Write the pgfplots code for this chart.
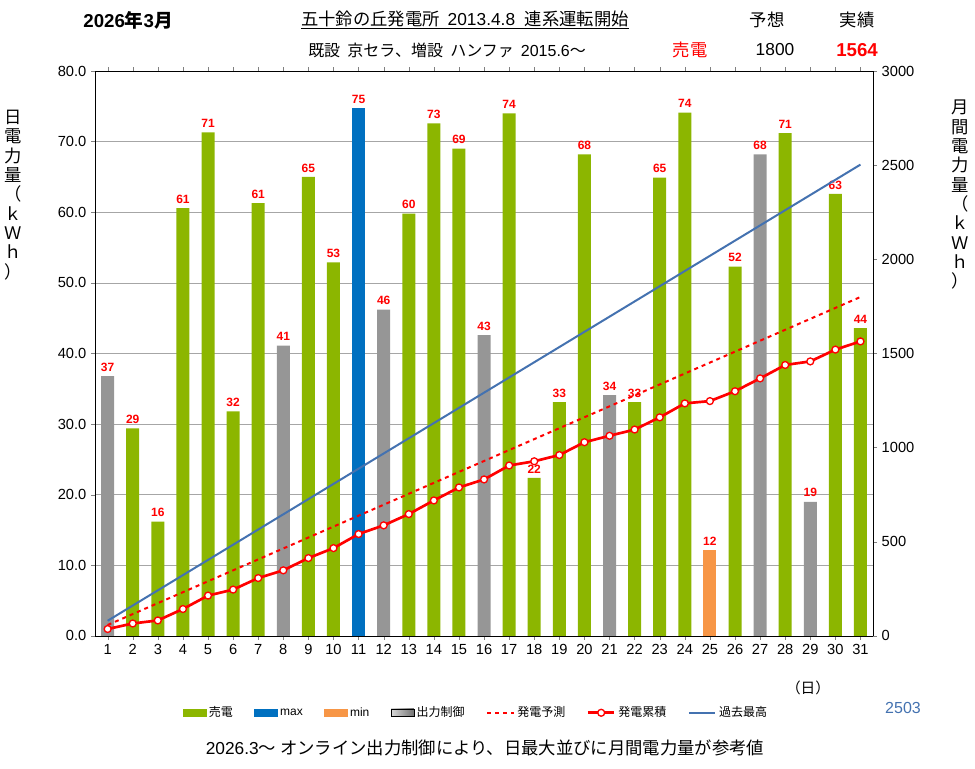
\documentclass[border=0pt]{standalone}
\usepackage{pgfplots}
\pgfplotsset{compat=1.18}
\usepackage{fontspec}
\setmainfont{Liberation Sans}
\newfontfamily\jp{Noto Sans CJK JP}
\definecolor{grn}{RGB}{140,182,0}
\definecolor{gry}{RGB}{150,150,150}
\definecolor{bl}{RGB}{0,112,192}
\definecolor{org}{RGB}{247,150,70}
\definecolor{lb}{RGB}{68,114,176}
\begin{document}
\begin{tikzpicture}
\pgfplotsset{every axis/.append style={scale only axis,width=583.5pt,height=423.75pt,xmin=0.5,xmax=31.5}}
\begin{axis}[
  ymin=0,ymax=80,ytick={0,10,...,80},
  xtick={1,...,31},
  tick label style={font=\fontsize{11}{13}\selectfont},
  /pgf/number format/assume math mode=true,
  yticklabel style={/pgf/number format/.cd,fixed,fixed zerofill,precision=1},
  ymajorgrids, grid style={gray!70},
  axis y line*=left, tick align=outside, major tick length=3pt,
  ybar, bar width=9.75pt, bar shift=0pt, clip=false,
  nodes near coords, every node near coord/.append style={red,font=\fontsize{9}{10}\selectfont\bfseries,/pgf/number format/.cd,fixed,precision=0},
]
\addplot[fill=grn,draw=none] coordinates {(2,29.4)(3,16.2)(4,60.6)(5,71.3)(6,31.8)(7,61.3)(9,65.0)(10,52.9)(13,59.8)(14,72.6)(15,69.0)(17,74.0)(18,22.4)(19,33.1)(20,68.2)(22,33.1)(23,64.9)(24,74.1)(26,52.3)(28,71.2)(30,62.6)(31,43.6)};
\addplot[fill=bl,draw=none] coordinates {(11,74.7)};
\addplot[fill=org,draw=none] coordinates {(25,12.2)};
\addplot[fill=gry,draw=none] coordinates {(1,36.8)(8,41.1)(12,46.2)(16,42.6)(21,34.1)(27,68.2)(29,19.0)};
\coordinate (tl) at (rel axis cs:-0.1221,1.1257);
\coordinate (br) at (rel axis cs:1.1311,-0.2354);
\def\px#1#2{(rel axis cs:{(#1-95)/778},{(636-#2)/565})}
\node[font=\fontsize{14}{16}\selectfont\bfseries] at \px{128}{20} {2026\jp 年\rmfamily 3\jp 月};
\node[font=\fontsize{13}{15}\selectfont] at \px{465}{20} {\underline{\jp 五十鈴の丘発電所\ \ \rmfamily 2013.4.8\ \ \jp 連系運転開始}};
\node[font=\fontsize{13}{15}\selectfont\jp] at \px{767}{20} {予想};
\node[font=\fontsize{13}{15}\selectfont\jp] at \px{857}{20} {実績};
\node[font=\fontsize{12}{14}\selectfont] at \px{447}{50} {\jp 既設\ \ 京セラ、増設\ \ ハンファ\ \ \rmfamily 2015.6\jp ～};
\node[font=\fontsize{13}{15}\selectfont\jp,red] at \px{690}{50} {売電};
\node[font=\fontsize{13}{15}\selectfont] at \px{775}{50} {1800};
\node[font=\fontsize{14}{16}\selectfont\bfseries,red] at \px{857}{50} {1564};
\node[font=\fontsize{13}{14.5}\selectfont\jp,align=center] at \px{13}{195} {日\\電\\力\\量\\（\\ｋ\\Ｗ\\ｈ\\）};
\node[font=\fontsize{13}{14.5}\selectfont\jp,align=center] at \px{960}{195} {月\\間\\電\\力\\量\\（\\ｋ\\Ｗ\\ｈ\\）};
\node[font=\fontsize{11}{13}\selectfont\jp] at \px{808}{688} {（日）};
\node[font=\fontsize{12}{14}\selectfont,lb] at \px{903}{708} {2503};
\node[font=\fontsize{13}{15}\selectfont\jp] at \px{485}{748} {\rmfamily 2026.3\jp ～ オンライン出力制御により、日最大並びに月間電力量が参考値};
\end{axis}
\begin{axis}[
  ymin=0,ymax=3000,ytick={0,500,...,3000},
  axis y line*=right, axis x line=none, tick align=outside, major tick length=3pt,
  tick label style={font=\fontsize{11}{13}\selectfont},
  /pgf/number format/assume math mode=true,
  yticklabel style={/pgf/number format/.cd,fixed,1000 sep={}},
  legend style={at={(rel axis cs:0.49,-0.136)},anchor=center,draw=none,legend columns=-1,
    font=\fontsize{9}{10}\selectfont\jp,/tikz/every even column/.append style={column sep=14pt}},
  legend image code/.code={\draw[#1] (0cm,0cm) -- (0.7cm,0cm);},
]
\addlegendimage{legend image code/.code={\fill[grn] (0cm,-0.1cm) rectangle (0.6cm,0.1cm);}}
\addlegendentry{売電}
\addlegendimage{legend image code/.code={\fill[bl] (0cm,-0.1cm) rectangle (0.6cm,0.1cm);}}
\addlegendentry{\rmfamily max}
\addlegendimage{legend image code/.code={\fill[org] (0cm,-0.1cm) rectangle (0.6cm,0.1cm);}}
\addlegendentry{\rmfamily min}
\addlegendimage{legend image code/.code={\shade[left color=gray!30,right color=gray!90!black] (0cm,-0.1cm) rectangle (0.6cm,0.1cm);}}
\addlegendentry{出力制御}
\addplot[red,dashed,line width=1.5pt] coordinates {(1,58.1)(31,1800)};
\addlegendentry{発電予測}
\addplot[red,line width=2pt,mark=*,mark size=2.6pt,mark options={fill=white,line width=1pt},
  legend image code/.code={\draw[red,line width=2pt] (0cm,0cm) -- (0.7cm,0cm); \draw[red,fill=white,line width=1pt] (0.35cm,0cm) circle (2.6pt);}] coordinates {
(1,36.8)(2,66.2)(3,82.4)(4,143.0)(5,214.3)(6,246.1)(7,307.4)(8,348.5)(9,413.5)(10,466.4)(11,541.1)(12,587.3)(13,647.1)(14,719.6)(15,788.6)(16,831.1)(17,905.1)(18,927.5)(19,960.6)(20,1028.8)(21,1062.9)(22,1096.0)(23,1160.9)(24,1235.0)(25,1247.2)(26,1299.5)(27,1367.7)(28,1438.9)(29,1457.9)(30,1520.5)(31,1564.1)};
\addlegendentry{発電累積}
\addplot[lb,line width=1.5pt] coordinates {(1,80.7)(31,2503)};
\addlegendentry{過去最高}
\end{axis}
\path[use as bounding box] (tl) rectangle (br);
\end{tikzpicture}
\end{document}
